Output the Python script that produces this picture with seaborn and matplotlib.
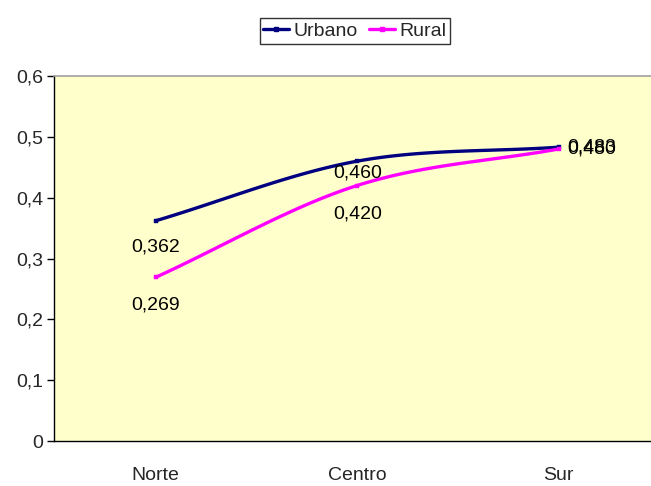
import numpy as np
import pandas as pd
import matplotlib
matplotlib.use("Agg")
import matplotlib.pyplot as plt
import seaborn as sns
from matplotlib.lines import Line2D

categories = ["Norte", "Centro", "Sur"]
urbano = [0.362, 0.460, 0.483]
rural = [0.269, 0.420, 0.480]
series_names = ["Urbano", "Rural"]
colors = ["#000080", "#FF00FF"]
yticks = [0, 0.1, 0.2, 0.3, 0.4, 0.5, 0.6]
ytick_labels = ["0", "0,1", "0,2", "0,3", "0,4", "0,5", "0,6"]

sns.set_theme(style="white")
plt.rcParams["font.family"] = ["Liberation Sans", "DejaVu Sans"]
FS = 14

fig = plt.figure(figsize=(6.51, 4.86), dpi=100)
ax = fig.add_axes([54 / 651, 1 - 441 / 486, 1 - 54 / 651 + 0.01, (441 - 76) / 486])
ax.set_facecolor("#FFFFCC")


def catmull(xs, ys, n=40):
    xs = np.asarray(xs, float)
    ys = np.asarray(ys, float)
    px = np.concatenate([[2 * xs[0] - xs[1]], xs, [2 * xs[-1] - xs[-2]]])
    py = np.concatenate([[2 * ys[0] - ys[1]], ys, [2 * ys[-1] - ys[-2]]])
    ox, oy = [], []
    for i in range(1, len(px) - 2):
        t = np.linspace(0, 1, n)
        p0, p1, p2, p3 = py[i - 1], py[i], py[i + 1], py[i + 2]
        m1 = (p2 - p0) / 2
        m2 = (p3 - p1) / 2
        h00 = 2 * t**3 - 3 * t**2 + 1
        h10 = t**3 - 2 * t**2 + t
        h01 = -2 * t**3 + 3 * t**2
        h11 = t**3 - t**2
        oy.extend(h00 * p1 + h10 * m1 + h01 * p2 + h11 * m2)
        ox.extend(px[i] + t * (px[i + 1] - px[i]))
    return np.array(ox), np.array(oy)


xpos = np.arange(len(categories))
for name, vals, col in zip(series_names, [urbano, rural], colors):
    sx, sy = catmull(xpos, vals)
    ax.plot(sx, sy, color=col, lw=2.4, zorder=3)
    df = pd.DataFrame({"x": xpos, "y": vals})
    sns.scatterplot(data=df, x="x", y="y", ax=ax, color=col, marker="s", s=12,
                    edgecolor=col, zorder=4, legend=False)

# labels
offsets_u = [(0, -26), (1, -12), (9, 0)]
offsets_r = [(0, -28), (1, -28), (9, 0)]
for vals, offs in [(urbano, offsets_u), (rural, offsets_r)]:
    for i, (v, off) in enumerate(zip(vals, offs)):
        ha = "left" if off[0] > 5 else "center"
        ax.annotate(f"{v:.3f}".replace(".", ","), (xpos[i], v), xytext=off,
                    textcoords="offset pixels", ha=ha, va="center",
                    fontsize=FS, color="black", zorder=5)

ax.set_xlim(-0.504, 2.49)
ax.set_ylim(0, 0.6)
ax.set_yticks(yticks)
ax.set_yticklabels(ytick_labels, fontsize=FS)
ax.set_xticks(xpos)
ax.set_xticklabels(categories, fontsize=FS)
ax.set_xticks([0.5, 1.5], minor=True)
ax.tick_params(axis="x", which="major", length=0, pad=19)
ax.tick_params(axis="x", which="minor", length=7, color="#808080", width=1, direction="out")
ax.tick_params(axis="y", length=5, color="black", width=1, direction="out", pad=3, left=True)
ax.set_xlabel("")
ax.set_ylabel("")

for s in ["left", "bottom"]:
    ax.spines[s].set_color("black")
    ax.spines[s].set_linewidth(1)
ax.spines["top"].set_color("#A0A0A0")
ax.spines["top"].set_linewidth(1.2)
ax.spines["right"].set_visible(False)

handles = [Line2D([0], [0], color=c, lw=2.4, marker="s", markersize=3) for c in colors]
leg = fig.legend(handles, series_names, loc="center", bbox_to_anchor=(355 / 651, 1 - 31 / 486),
                 ncol=2, frameon=True, fancybox=False, fontsize=FS, handlelength=1.3,
                 handletextpad=0.25, columnspacing=0.6, borderpad=0.2, borderaxespad=0)
leg.get_frame().set_edgecolor("black")
leg.get_frame().set_linewidth(1)

fig.savefig("out.png", dpi=100, facecolor="white")
